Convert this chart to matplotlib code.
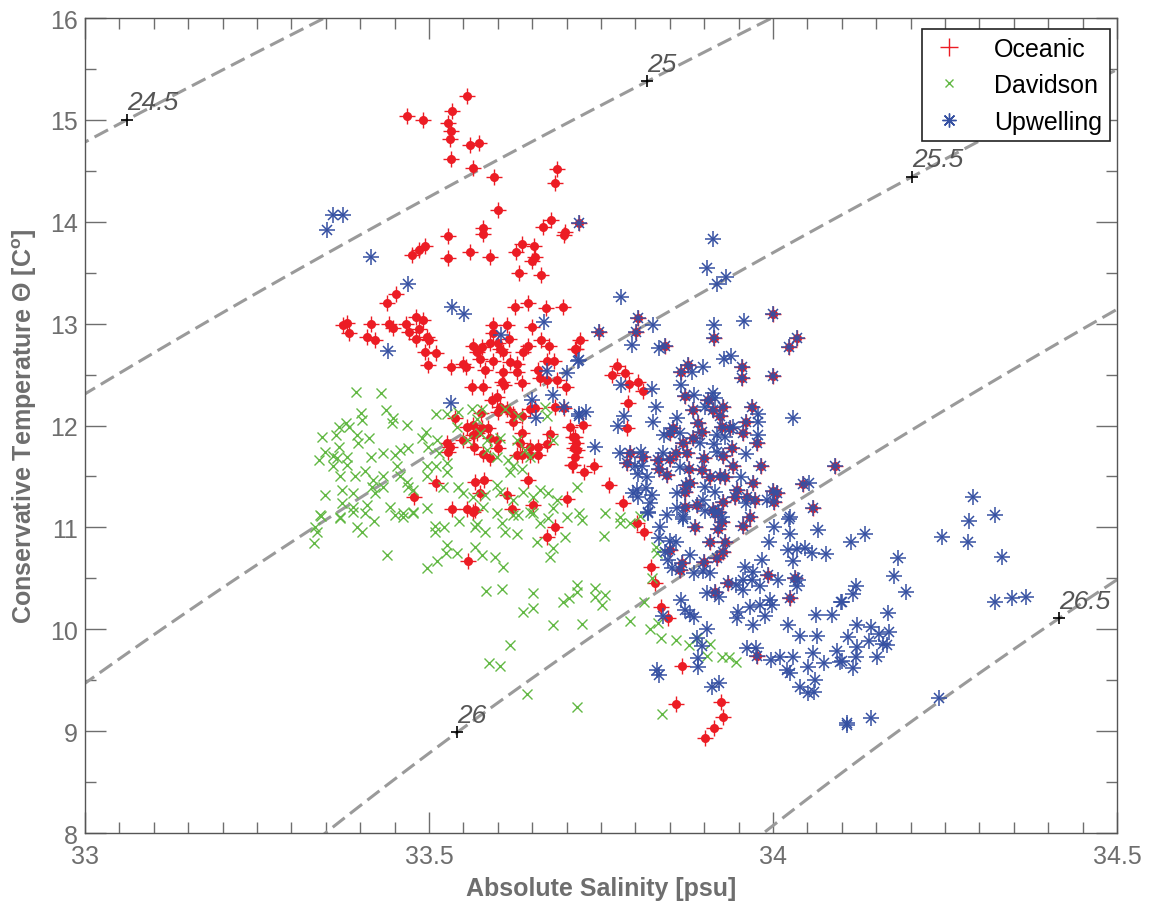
import numpy as np
import matplotlib
matplotlib.use('Agg')
import matplotlib.pyplot as plt
from matplotlib.lines import Line2D

plt.rcParams['font.family'] = ['Liberation Sans', 'DejaVu Sans']
plt.rcParams['mathtext.fontset'] = 'custom'
plt.rcParams['mathtext.rm'] = 'Liberation Sans'
plt.rcParams['mathtext.bf'] = 'Liberation Sans:bold'

# (Absolute Salinity, Conservative Temperature)
oceanic = np.array([
    (33.555,15.23),(33.468,15.04),(33.491,15.00),(33.533,15.09),(33.528,14.97),(33.532,14.89),(33.530,14.81),
    (33.560,14.75),(33.573,14.77),(33.532,14.62),(33.564,14.53),(33.594,14.44),(33.686,14.52),(33.683,14.38),
    (33.600,14.12),(33.677,14.02),(33.666,13.95),(33.578,13.94),(33.578,13.88),(33.698,13.90),(33.696,13.87),
    (33.528,13.86),(33.494,13.76),(33.486,13.72),(33.475,13.67),(33.560,13.70),(33.589,13.65),(33.528,13.64),
    (33.626,13.70),(33.635,13.78),(33.653,13.76),(33.654,13.65),(33.650,13.62),(33.631,13.50),(33.663,13.48),
    (33.452,13.29),(33.439,13.20),(33.625,13.16),(33.644,13.20),(33.670,13.15),(33.695,13.16),
    (33.381,13.01),(33.375,12.99),(33.384,12.91),(33.416,13.00),(33.442,13.00),(33.448,12.96),(33.467,13.00),
    (33.481,13.07),(33.491,13.04),(33.485,12.95),(33.471,12.92),(33.410,12.87),(33.422,12.84),(33.481,12.85),
    (33.497,12.87),(33.500,12.84),(33.494,12.72),(33.510,12.71),(33.499,12.59),(33.532,12.57),(33.549,12.60),
    (33.554,12.57),(33.593,12.99),(33.613,12.99),(33.650,12.97),(33.663,12.84),(33.674,12.78),(33.644,12.78),
    (33.637,12.72),(33.616,12.85),(33.593,12.91),(33.564,12.78),(33.577,12.77),(33.589,12.81),(33.600,12.81),
    (33.603,12.75),(33.608,12.72),(33.570,12.72),(33.574,12.65),(33.593,12.63),(33.618,12.62),(33.628,12.60),
    (33.581,12.55),(33.608,12.53),(33.628,12.53),(33.659,12.55),(33.672,12.63),(33.682,12.63),(33.661,12.47),
    (33.672,12.45),(33.686,12.45),(33.606,12.43),(33.609,12.40),(33.578,12.38),(33.563,12.38),(33.635,12.42),
    (33.699,12.38),(33.712,12.75),(33.592,12.25),(33.599,12.28),(33.603,12.18),(33.613,12.16),(33.600,12.13),
    (33.622,12.03),(33.622,12.11),(33.647,12.16),(33.654,12.17),(33.683,12.18),(33.696,12.17),(33.635,12.09),
    (33.576,12.12),(33.538,12.07),(33.555,11.99),(33.564,12.01),(33.577,11.98),(33.586,11.98),(33.564,11.91),
    (33.570,11.93),(33.589,11.88),(33.599,11.86),(33.600,11.78),(33.635,11.93),(33.676,11.92),(33.705,11.99),
    (33.712,11.89),(33.672,11.82),(33.659,11.79),(33.647,11.79),(33.632,11.83),(33.526,11.83),(33.531,11.79),
    (33.528,11.74),(33.549,11.86),(33.565,11.79),(33.578,11.72),(33.589,11.68),(33.628,11.71),(33.635,11.71),
    (33.647,11.71),(33.659,11.71),(33.711,11.78),(33.712,11.69),(33.708,11.61),(33.644,11.47),(33.580,11.47),
    (33.567,11.45),(33.510,11.44),(33.478,11.30),(33.613,11.32),(33.651,11.22),(33.701,11.28),(33.533,11.18),
    (33.555,11.18),(33.567,11.17),(33.621,11.18),(33.574,11.34),(33.564,11.15),(33.683,11.00),(33.672,10.91),
    (33.557,10.67),(33.720,12.84),(33.714,12.75),(33.766,12.50),(33.773,12.58),(33.785,12.52),(33.791,12.41),
    (33.804,12.43),(33.811,12.34),(33.789,12.22),(33.724,12.01),(33.788,11.98),(33.709,11.89),(33.714,11.83),
    (33.715,11.76),(33.709,11.61),(33.725,11.54),(33.740,11.60),(33.762,11.42),(33.782,11.24),(33.802,11.04),
    (33.812,10.95),(33.823,10.61),(33.828,10.45),(33.837,10.22),(33.847,10.11),(33.868,9.64),(33.859,9.27),
    (33.924,9.29),(33.927,9.14),(33.914,9.03),(33.901,8.93),
])

# stations that appear in both the oceanic and upwelling groups
shared = np.array([
    (33.718,13.99),(33.804,13.06),(33.801,12.92),(33.747,12.92),(33.843,12.78),(33.914,12.86),(34.000,13.09),
    (34.035,12.86),(34.023,12.77),(33.876,12.59),(33.866,12.53),(33.955,12.57),(33.955,12.47),(34.000,12.49),
    (33.872,12.29),(33.884,12.15),(33.906,12.25),(33.913,12.15),(33.927,12.18),(33.969,12.18),(33.923,12.09),
    (33.891,12.02),(33.855,11.98),(33.850,11.93),(33.897,11.94),(33.926,11.99),(33.938,11.98),(33.961,12.03),
    (33.956,11.93),(33.977,11.83),(33.869,11.83),(33.884,11.88),(33.940,11.78),(33.927,11.70),(33.875,11.73),
    (33.859,11.73),(33.792,11.73),(33.811,11.69),(33.788,11.63),(33.833,11.66),(33.850,11.67),(33.900,11.68),
    (33.834,11.57),(33.846,11.51),(33.878,11.57),(33.897,11.56),(33.942,11.60),(33.983,11.60),(33.908,11.49),
    (33.923,11.50),(33.930,11.49),(33.971,11.44),(33.874,11.42),(33.879,11.44),(33.872,11.35),(33.948,11.37),
    (34.000,11.36),(34.006,11.34),(34.001,11.25),(33.974,11.27),(33.962,11.30),(33.945,11.30),(33.927,11.25),
    (33.890,11.22),(33.872,11.20),(33.913,11.17),(33.920,11.15),(34.044,11.43),(34.090,11.60),(34.058,11.19),
    (33.887,11.00),(33.916,11.14),(33.926,11.05),(33.920,10.98),(33.908,10.86),(33.930,10.86),(33.956,11.01),
    (33.967,11.10),(33.850,10.78),(33.868,10.65),(33.865,10.58),(33.900,10.66),(33.919,10.70),(33.927,10.76),
    (33.935,10.45),(33.916,10.37),(33.993,10.53),(34.032,10.50),(34.025,10.31),(33.977,9.74),
])

davidson = np.array([
    (33.394,12.33),(33.430,12.32),(33.437,12.15),(33.401,12.12),(33.448,12.07),(33.446,12.02),(33.468,12.01),
    (33.403,12.05),(33.379,12.02),(33.369,11.99),(33.384,11.99),(33.344,11.89),(33.365,11.91),(33.395,11.91),
    (33.413,11.88),(33.369,11.79),(33.397,11.83),(33.349,11.74),(33.360,11.70),(33.381,11.69),(33.340,11.66),
    (33.366,11.68),(33.416,11.69),(33.433,11.73),(33.451,11.71),(33.458,11.76),(33.470,11.78),(33.496,11.94),
    (33.510,12.11),(33.526,12.11),(33.490,11.88),(33.512,11.86),(33.499,11.79),(33.515,11.73),(33.541,11.99),
    (33.542,12.13),(33.562,12.16),(33.577,12.16),(33.570,12.06),(33.574,11.93),(33.584,11.86),(33.555,11.86),
    (33.603,11.88),(33.610,12.16),(33.629,12.09),(33.628,11.86),(33.640,11.76),(33.647,11.69),(33.669,12.18),
    (33.672,12.09),(33.680,11.86),(33.599,11.69),(33.584,11.76),(33.615,11.66),(33.622,11.60),(33.635,11.57),
    (33.618,11.54),(33.360,11.60),(33.381,11.61),(33.371,11.50),(33.392,11.50),(33.407,11.55),(33.419,11.47),
    (33.433,11.50),(33.417,11.40),(33.433,11.40),(33.422,11.34),(33.453,11.60),(33.458,11.50),(33.468,11.45),
    (33.470,11.40),(33.477,11.37),(33.497,11.60),(33.510,11.60),(33.526,11.63),(33.497,11.50),(33.526,11.54),
    (33.349,11.32),(33.374,11.37),(33.390,11.34),(33.374,11.24),(33.390,11.20),(33.410,11.22),(33.342,11.12),
    (33.371,11.10),(33.443,11.20),(33.462,11.14),(33.477,11.15),(33.497,11.19),(33.542,11.40),(33.549,11.34),
    (33.564,11.30),(33.581,11.32),(33.599,11.42),(33.603,11.35),(33.622,11.27),(33.637,11.35),(33.651,11.30),
    (33.661,11.37),(33.673,11.34),(33.686,11.27),(33.680,11.19),(33.651,11.14),(33.578,11.20),(33.599,11.14),
    (33.622,11.12),(33.520,11.40),(33.715,11.40),(33.343,11.11),(33.334,11.00),(33.337,10.95),(33.333,10.85),
    (33.371,11.09),(33.390,11.15),(33.407,11.14),(33.420,11.06),(33.395,11.00),(33.403,10.95),(33.451,11.12),
    (33.462,11.10),(33.477,11.14),(33.439,10.73),(33.509,11.01),(33.509,10.95),(33.522,11.00),(33.544,11.06),
    (33.526,10.83),(33.525,10.75),(33.541,10.75),(33.512,10.67),(33.497,10.60),(33.567,11.00),(33.570,11.03),
    (33.581,10.95),(33.567,10.81),(33.577,10.73),(33.596,10.71),(33.608,10.61),(33.606,11.04),(33.610,10.95),
    (33.628,10.94),(33.629,11.12),(33.647,11.15),(33.661,11.04),(33.673,11.09),(33.657,10.86),(33.680,10.80),
    (33.676,10.71),(33.701,11.10),(33.698,10.91),(33.583,10.38),(33.606,10.40),(33.651,10.36),(33.651,10.21),
    (33.637,10.17),(33.680,10.04),(33.618,9.85),(33.587,9.67),(33.603,9.64),(33.642,9.36),(33.715,9.24),
    (33.695,10.27),(33.703,10.31),(33.715,10.43),(33.715,10.37),(33.718,11.14),(33.722,11.07),(33.756,11.14),
    (33.778,11.10),(33.778,11.04),(33.792,11.04),(33.807,11.11),(33.754,10.92),(33.830,10.81),(33.831,10.75),
    (33.741,10.41),(33.741,10.32),(33.756,10.34),(33.751,10.24),(33.722,10.05),(33.792,10.08),(33.824,10.50),
    (33.812,10.27),(33.821,10.00),(33.833,10.06),(33.837,9.91),(33.859,9.89),(33.878,9.85),(33.890,9.91),
    (33.908,9.86),(33.904,9.74),(33.926,9.73),(33.936,9.73),(33.946,9.68),(33.839,9.17),
])

upwelling = np.array([
    (33.360,14.07),(33.375,14.07),(33.352,13.92),(33.416,13.65),(33.469,13.39),(33.533,13.16),(33.551,13.09),
    (33.440,12.73),(33.667,13.02),(33.605,12.89),(33.672,12.54),(33.701,12.52),(33.717,12.63),(33.532,12.22),
    (33.650,12.25),(33.680,12.30),(33.696,12.18),(33.656,12.07),(33.718,12.09),(33.913,13.83),(33.904,13.55),
    (33.919,13.39),(33.932,13.46),(33.779,13.26),(33.826,12.99),(33.795,12.79),(33.834,12.76),(33.914,12.99),
    (33.958,13.03),(33.718,12.64),(33.929,12.65),(33.939,12.68),(33.898,12.57),(33.882,12.53),(33.779,12.40),
    (33.824,12.36),(33.866,12.40),(33.885,12.30),(33.913,12.32),(33.916,12.27),(33.830,12.18),(33.901,12.18),
    (33.978,12.11),(34.029,12.07),(33.718,12.11),(33.728,12.13),(33.784,12.09),(33.775,12.00),(33.826,12.03),
    (33.860,12.07),(33.842,11.91),(33.865,11.93),(33.978,12.03),(33.978,11.91),(33.919,11.91),(33.942,11.99),
    (33.930,11.89),(33.894,11.83),(33.914,11.82),(33.919,11.74),(33.741,11.79),(33.777,11.73),(33.808,11.74),
    (33.840,11.73),(33.961,11.72),(33.799,11.60),(33.810,11.60),(33.865,11.59),(33.804,11.52),(33.817,11.49),
    (33.953,11.49),(33.802,11.37),(33.815,11.39),(33.797,11.34),(33.804,11.30),(33.824,11.32),(33.860,11.34),
    (33.901,11.40),(33.916,11.35),(33.821,11.24),(33.818,11.15),(33.846,11.12),(33.860,11.19),(33.869,11.10),
    (33.898,11.27),(33.991,11.27),(33.961,11.24),(34.025,11.10),(34.052,11.44),(33.901,11.16),(33.926,11.10),
    (33.818,11.14),(33.869,11.08),(33.836,11.00),(33.834,10.90),(33.850,10.87),(33.859,10.86),(33.847,10.68),
    (33.853,10.60),(33.879,10.73),(33.885,10.55),(33.898,10.57),(33.908,10.55),(33.843,10.76),(34.023,11.08),
    (34.001,11.00),(34.025,10.94),(34.065,10.97),(33.994,10.86),(34.022,10.78),(34.029,10.67),(34.035,10.79),
    (34.046,10.80),(34.057,10.75),(34.077,10.74),(33.984,10.68),(33.959,10.61),(33.971,10.56),(33.956,10.48),
    (33.969,10.48),(33.946,10.43),(33.956,10.39),(33.981,10.42),(34.007,10.48),(34.035,10.42),(34.036,10.48),
    (33.904,10.36),(33.922,10.32),(33.866,10.29),(33.872,10.19),(33.879,10.15),(33.885,10.12),(33.840,10.13),
    (33.967,10.22),(33.949,10.17),(33.948,10.11),(33.981,10.24),(33.996,10.29),(33.999,10.24),(33.988,10.13),
    (33.971,10.04),(34.022,10.04),(33.904,10.00),(33.890,9.91),(33.897,9.84),(33.891,9.72),(33.891,9.63),
    (33.831,9.60),(33.834,9.55),(33.911,9.43),(33.922,9.47),(33.962,9.82),(33.975,9.82),(33.997,9.70),
    (34.010,9.73),(34.029,9.73),(34.039,9.93),(34.064,9.93),(34.058,9.77),(34.093,9.79),(34.097,9.68),
    (34.074,9.67),(34.051,9.63),(34.020,9.60),(34.025,9.57),(34.039,9.43),(34.061,9.50),(34.051,9.37),
    (34.060,9.38),(34.108,9.08),(34.099,10.27),(34.086,10.14),(34.063,10.14),(34.291,11.30),(34.323,11.12),
    (34.285,11.06),(34.246,10.91),(34.283,10.86),(34.333,10.71),(34.134,10.94),(34.113,10.86),(34.182,10.70),
    (34.176,10.52),(34.193,10.37),(34.121,10.42),(34.116,10.35),(34.100,10.27),(34.323,10.27),(34.347,10.31),
    (34.368,10.32),(34.167,10.16),(34.122,10.04),(34.142,10.02),(34.154,9.95),(34.169,9.97),(34.109,9.92),
    (34.140,9.88),(34.160,9.86),(34.166,9.85),(34.122,9.83),(34.151,9.73),(34.121,9.73),(34.100,9.69),
    (34.116,9.62),(34.241,9.33),(34.142,9.13),(34.108,9.06),
])

sigma_levels = [24.5, 25.0, 25.5, 26.0, 26.5]
label_S = [33.061, 33.817, 34.202, 33.541, 34.416]   # where the contour labels sit
sigma_offset = 0.022   # small shift so the UNESCO surface density matches the TEOS lines of the original


def sigma0(S, T):
    # UNESCO 1980 density at the surface, minus 1000
    rho_w = (999.842594 + 6.793952e-2*T - 9.095290e-3*T**2 + 1.001685e-4*T**3
             - 1.120083e-6*T**4 + 6.536332e-9*T**5)
    A = 8.24493e-1 - 4.0899e-3*T + 7.6438e-5*T**2 - 8.2467e-7*T**3 + 5.3875e-9*T**4
    B = -5.72466e-3 + 1.0227e-4*T - 1.6546e-6*T**2
    C = 4.8314e-4
    return rho_w + A*S + B*S**1.5 + C*S**2 - 1000. + sigma_offset


oc_S = np.r_[oceanic[:, 0], shared[:, 0]]
oc_T = np.r_[oceanic[:, 1], shared[:, 1]]
dv_S, dv_T = davidson[:, 0], davidson[:, 1]
up_S = np.r_[upwelling[:, 0], shared[:, 0]]
up_T = np.r_[upwelling[:, 1], shared[:, 1]]

grey = '#6e6e6e'
red = '#ec1c24'
green = '#62b844'
blue = '#3550a2'

fig = plt.figure(figsize=(11.53, 9.03), dpi=100)
ax = fig.add_axes([0.0737, 0.0764, 0.895, 0.9025])

# density contours
Sg, Tg = np.meshgrid(np.linspace(32.9, 34.6, 300), np.linspace(7.5, 16.5, 300))
ax.contour(Sg, Tg, sigma0(Sg, Tg), levels=sigma_levels, colors='#9a9a9a',
           linewidths=2.2, linestyles=[(0, (5, 2.2))])

Tfine = np.linspace(7.5, 16.5, 2000)
for lev, s in zip(sigma_levels, label_S):
    sig = sigma0(s, Tfine)
    t = np.interp(lev, sig[::-1], Tfine[::-1])
    ax.plot(s, t, '+', color='k', ms=9, mew=1.2, zorder=5)
    ax.annotate('%g' % lev, (s, t), xytext=(0, 4), textcoords='offset points',
                fontsize=19, style='italic', color='#555555', ha='left', va='bottom', zorder=5)

# data
ax.plot(oc_S, oc_T, 'o', color=red, ms=6.5, mec=red, mew=0, zorder=3)
ax.plot(oc_S, oc_T, '+', color=red, ms=11, mew=1.0, zorder=3)
ax.plot(dv_S, dv_T, 'x', color=green, ms=7, mew=1.0, zorder=4)
ax.plot(up_S, up_T, '+', color=blue, ms=11.5, mew=1.1, zorder=6)
ax.plot(up_S, up_T, 'x', color=blue, ms=7, mew=1.1, zorder=6)

ax.set_xlim(33, 34.5)
ax.set_ylim(8, 16)
ax.set_xticks([33, 33.5, 34, 34.5])
ax.set_xticklabels(['33', '33.5', '34', '34.5'])
ax.set_xticks(np.arange(33, 34.501, 0.05), minor=True)
ax.set_yticks(np.arange(8, 17, 1))
ax.set_yticks(np.arange(8, 16.01, 0.5), minor=True)
ax.tick_params(which='both', direction='in', top=True, right=True, colors=grey,
               labelsize=18, labelcolor=grey)
ax.tick_params(which='major', length=15, width=1)
ax.tick_params(axis='x', which='major', pad=8)
ax.tick_params(axis='y', which='major', pad=5)
ax.tick_params(which='minor', length=8, width=1)
for sp in ax.spines.values():
    sp.set_color('#555555')
    sp.set_linewidth(1)

ax.set_xlabel('Absolute Salinity [psu]', fontsize=18, fontweight='bold', color=grey, labelpad=6)
ax.set_ylabel(r'Conservative Temperature $\mathbf{\Theta}$ [C$^\mathbf{o}$]', fontsize=18,
              fontweight='bold', color=grey, labelpad=8)

handles = [
    Line2D([], [], ls='none', marker='+', color=red, ms=13, mew=1),
    Line2D([], [], ls='none', marker='x', color=green, ms=6, mew=1),
    Line2D([], [], ls='none', marker=(8, 2, 0), color=blue, ms=10, mew=1),
]
leg = ax.legend(handles, ['Oceanic', 'Davidson', 'Upwelling'], loc='upper right',
                bbox_to_anchor=(0.993, 0.9865), borderaxespad=0, fontsize=18,
                fancybox=False, framealpha=1, edgecolor='#222222', handlelength=1.6,
                handletextpad=1.0, labelspacing=0.5, borderpad=0.3)
leg.get_frame().set_linewidth(1.2)

fig.savefig('out.png', dpi=100)
